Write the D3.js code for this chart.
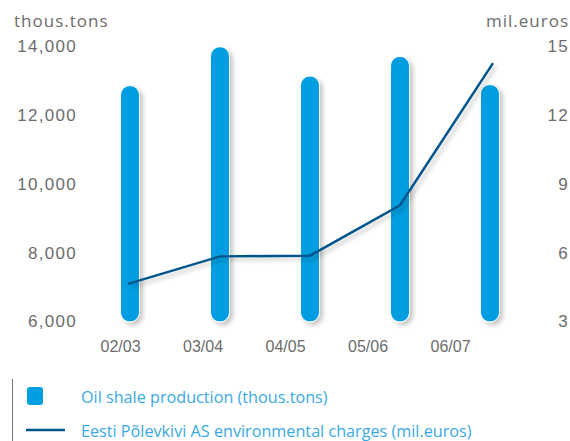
<!DOCTYPE html>
<html>
<head>
<meta charset="utf-8">
<script src="https://cdn.jsdelivr.net/npm/d3@7"></script>
<style>
  body { margin: 0; background: #fff; }
  svg { display: block; font-family: "Open Sans", "DejaVu Sans", sans-serif; }
</style>
</head>
<body>
<svg id="chart" width="570" height="441"></svg>
<script>
// data
var years = ["02/03", "03/04", "04/05", "05/06", "06/07"];
var production = [12850, 13980, 13130, 13700, 12880];   // thous.tons
var charges = [4.62, 5.82, 5.85, 8.05, 14.25];            // mil.euros
var leftTicks = [6000, 8000, 10000, 12000, 14000];
var rightTicks = [3, 6, 9, 12, 15];

var svg = d3.select("#chart");

var barColor = "#009ee0",
    lineColor = "#00578c",
    textColor = "#6c6c6c";

var defs = svg.append("defs");
var shadow = defs.append("filter")
    .attr("id", "shadow")
    .attr("x", "-50%").attr("y", "-20%")
    .attr("width", "200%").attr("height", "140%");
shadow.append("feDropShadow")
    .attr("dx", 3).attr("dy", 3)
    .attr("stdDeviation", 2)
    .attr("flood-color", "#000")
    .attr("flood-opacity", 0.22);

var yLeft = d3.scaleLinear().domain([6000, 14000]).range([321, 46]);
var yRight = d3.scaleLinear().domain([3, 15]).range([321, 46]);
var x = d3.scalePoint().domain(years).range([130, 490]);
var xLabels = d3.scalePoint().domain(years).range([120, 450]);

var barW = 19;

// axes (text only)
var leftAxis = svg.append("g")
    .attr("transform", "translate(77,0)")
    .call(d3.axisLeft(yLeft).tickValues(leftTicks).tickSize(0).tickPadding(0)
      .tickFormat(d3.format(",")));
leftAxis.select(".domain").remove();
leftAxis.selectAll("text")
    .attr("fill", textColor)
    .style("font-size", "17px")
    .style("letter-spacing", "1.3px")
    .attr("dy", "0.35em");

var rightAxis = svg.append("g")
    .attr("transform", "translate(569,0)")
    .call(d3.axisLeft(yRight).tickValues(rightTicks).tickSize(0).tickPadding(0));
rightAxis.select(".domain").remove();
rightAxis.selectAll("text")
    .attr("fill", textColor)
    .style("font-size", "17px")
    .style("letter-spacing", "1.3px")
    .attr("dy", "0.35em");

var bottomAxis = svg.append("g")
    .attr("transform", "translate(0,341)")
    .call(d3.axisBottom(xLabels).tickSize(0).tickPadding(0));
bottomAxis.select(".domain").remove();
bottomAxis.selectAll("text")
    .attr("fill", textColor)
    .style("font-size", "16px")
    .attr("dy", "0.71em");

// unit titles
svg.append("text")
    .attr("x", 14).attr("y", 27)
    .attr("fill", textColor)
    .style("font-size", "17px")
    .style("letter-spacing", "1px")
    .text("thous.tons");

svg.append("text")
    .attr("x", 569).attr("y", 27)
    .attr("text-anchor", "end")
    .attr("fill", textColor)
    .style("font-size", "17px")
    .style("letter-spacing", "1px")
    .text("mil.euros");

// bars
svg.append("g")
  .selectAll("rect")
  .data(production)
  .join("rect")
    .attr("x", function(d, i) { return x(years[i]) - barW / 2; })
    .attr("y", function(d) { return yLeft(d); })
    .attr("width", barW)
    .attr("height", function(d) { return yLeft(6000) + 1 - yLeft(d); })
    .attr("rx", barW / 2)
    .attr("fill", barColor)
    .attr("stroke", "#fff")
    .attr("stroke-width", 1)
    .attr("filter", "url(#shadow)");

// line
var line = d3.line()
    .x(function(d, i) { return x(years[i]) + (i === 4 ? 3 : 0) - (i === 0 ? 2 : 0); })
    .y(function(d) { return yRight(d); });

svg.append("path")
    .datum(charges)
    .attr("d", line)
    .attr("fill", "none")
    .attr("stroke", lineColor)
    .attr("stroke-width", 2.5)
    .attr("filter", "url(#shadow)");

// legend
var legend = svg.append("g");
legend.append("line")
    .attr("x1", 12.5).attr("x2", 12.5)
    .attr("y1", 379).attr("y2", 441)
    .attr("stroke", "#777")
    .attr("stroke-width", 1);

legend.append("rect")
    .attr("x", 27).attr("y", 387)
    .attr("width", 16).attr("height", 18)
    .attr("rx", 3)
    .attr("fill", barColor);

legend.append("text")
    .attr("x", 81).attr("y", 403)
    .attr("fill", "#3aa9e2")
    .style("font-size", "16.2px")
    .text("Oil shale production (thous.tons)");

legend.append("line")
    .attr("x1", 26).attr("x2", 65)
    .attr("y1", 430).attr("y2", 430)
    .attr("stroke", lineColor)
    .attr("stroke-width", 2.5);

legend.append("text")
    .attr("x", 81).attr("y", 437)
    .attr("fill", "#3aa9e2")
    .style("font-size", "16.2px")
    .text("Eesti Põlevkivi AS environmental charges (mil.euros)");
</script>
</body>
</html>
